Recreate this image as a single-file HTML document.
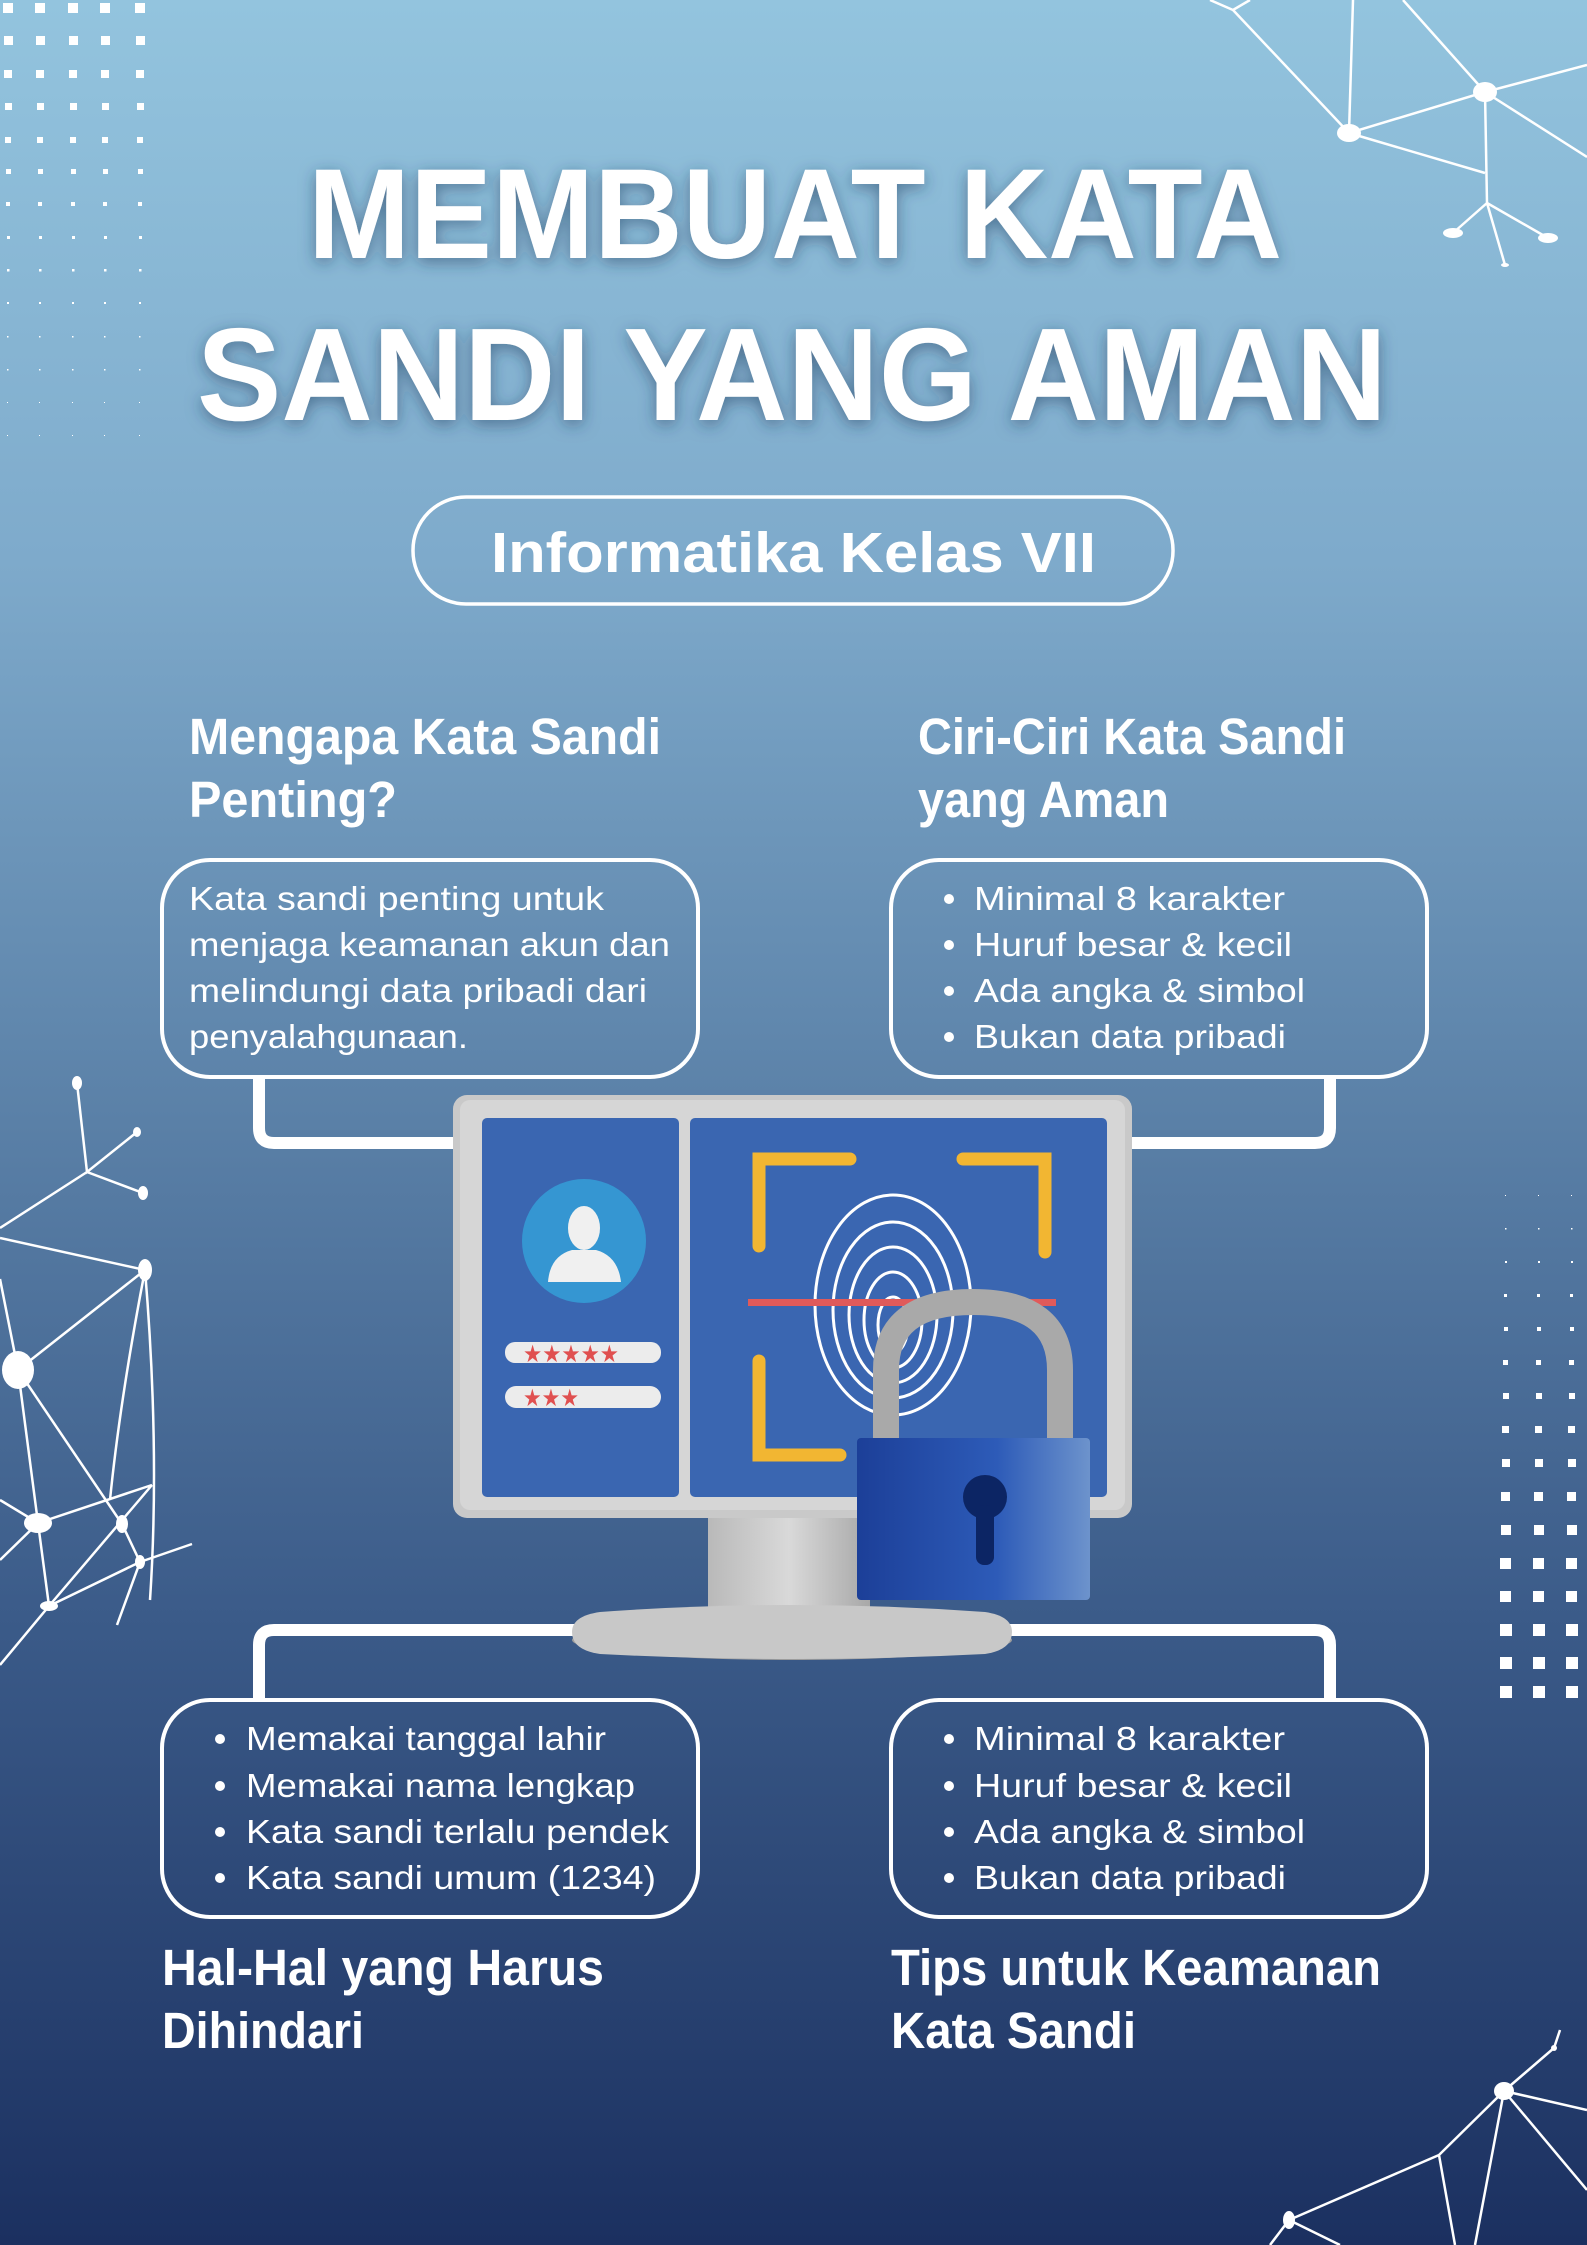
<!DOCTYPE html>
<html><head><meta charset="utf-8"><style>
html,body{margin:0;padding:0;width:1587px;height:2245px;overflow:hidden}
svg{display:block}
.h{font-family:"Liberation Sans Narrow","Liberation Sans",sans-serif;font-weight:bold;fill:#fff}
.b{font-family:"Liberation Sans Narrow","Liberation Sans",sans-serif;fill:#fff;font-size:33px}
</style></head><body>
<svg width="1587" height="2245" viewBox="0 0 1587 2245" xmlns="http://www.w3.org/2000/svg">
<defs>
<linearGradient id="bg" x1="0" y1="0" x2="0" y2="1">
<stop offset="0" stop-color="#93c4de"/>
<stop offset="0.25" stop-color="#7eaacb"/>
<stop offset="0.5" stop-color="#5a80a7"/>
<stop offset="0.72" stop-color="#3b5b89"/>
<stop offset="1" stop-color="#1b3060"/>
</linearGradient>
<filter id="sh" x="-10%" y="-20%" width="120%" height="140%"><feDropShadow dx="0" dy="4" stdDeviation="8" flood-color="#1d3a5c" flood-opacity="0.55"/></filter>
<linearGradient id="lock" x1="0" y1="0" x2="1" y2="0"><stop offset="0" stop-color="#1c3f98"/><stop offset="0.6" stop-color="#2d5bb8"/><stop offset="1" stop-color="#6d93cc"/></linearGradient>
<linearGradient id="grey" x1="0" y1="0" x2="1" y2="0"><stop offset="0" stop-color="#b9b9b9"/><stop offset="0.5" stop-color="#d9d9d9"/><stop offset="1" stop-color="#a8a8a8"/></linearGradient>
</defs>
<rect width="1587" height="2245" fill="url(#bg)"/>

<g fill="#fff">
<rect x="3" y="3" width="10" height="10"/><rect x="35" y="3" width="10" height="10"/><rect x="68" y="3" width="10" height="10"/><rect x="100" y="3" width="10" height="10"/><rect x="135" y="3" width="10" height="10"/>
<rect x="4" y="36" width="9" height="9"/><rect x="36" y="36" width="9" height="9"/><rect x="69" y="36" width="9" height="9"/><rect x="101" y="36" width="9" height="9"/><rect x="136" y="36" width="9" height="9"/>
<rect x="4" y="70" width="8" height="8"/><rect x="36" y="70" width="8" height="8"/><rect x="69" y="70" width="8" height="8"/><rect x="101" y="70" width="8" height="8"/><rect x="136" y="70" width="8" height="8"/>
<rect x="5" y="103" width="7" height="7"/><rect x="37" y="103" width="7" height="7"/><rect x="70" y="103" width="7" height="7"/><rect x="102" y="103" width="7" height="7"/><rect x="137" y="103" width="7" height="7"/>
<rect x="5" y="137" width="6" height="6"/><rect x="37" y="137" width="6" height="6"/><rect x="70" y="137" width="6" height="6"/><rect x="102" y="137" width="6" height="6"/><rect x="137" y="137" width="6" height="6"/>
<rect x="6" y="169" width="5" height="5"/><rect x="38" y="169" width="5" height="5"/><rect x="71" y="169" width="5" height="5"/><rect x="103" y="169" width="5" height="5"/><rect x="138" y="169" width="5" height="5"/>
<rect x="6" y="202" width="4" height="4"/><rect x="38" y="202" width="4" height="4"/><rect x="71" y="202" width="4" height="4"/><rect x="103" y="202" width="4" height="4"/><rect x="138" y="202" width="4" height="4"/>
<rect x="7" y="236" width="3" height="3"/><rect x="39" y="236" width="3" height="3"/><rect x="72" y="236" width="3" height="3"/><rect x="104" y="236" width="3" height="3"/><rect x="139" y="236" width="3" height="3"/>
<rect x="7" y="269" width="2.5" height="2.5"/><rect x="39" y="269" width="2.5" height="2.5"/><rect x="72" y="269" width="2.5" height="2.5"/><rect x="104" y="269" width="2.5" height="2.5"/><rect x="139" y="269" width="2.5" height="2.5"/>
<rect x="7" y="302" width="2" height="2"/><rect x="39" y="302" width="2" height="2"/><rect x="72" y="302" width="2" height="2"/><rect x="104" y="302" width="2" height="2"/><rect x="139" y="302" width="2" height="2"/>
<rect x="7" y="336" width="1.5" height="1.5"/><rect x="39" y="336" width="1.5" height="1.5"/><rect x="72" y="336" width="1.5" height="1.5"/><rect x="104" y="336" width="1.5" height="1.5"/><rect x="139" y="336" width="1.5" height="1.5"/>
<rect x="7" y="369" width="1.5" height="1.5"/><rect x="39" y="369" width="1.5" height="1.5"/><rect x="72" y="369" width="1.5" height="1.5"/><rect x="104" y="369" width="1.5" height="1.5"/><rect x="139" y="369" width="1.5" height="1.5"/>
<rect x="7" y="402" width="1" height="1"/><rect x="39" y="402" width="1" height="1"/><rect x="72" y="402" width="1" height="1"/><rect x="104" y="402" width="1" height="1"/><rect x="139" y="402" width="1" height="1"/>
<rect x="7" y="435" width="1" height="1"/><rect x="39" y="435" width="1" height="1"/><rect x="72" y="435" width="1" height="1"/><rect x="104" y="435" width="1" height="1"/><rect x="139" y="435" width="1" height="1"/>
</g>
<g fill="#fff">
<rect x="1505" y="1195" width="1" height="1"/><rect x="1538" y="1195" width="1" height="1"/><rect x="1571" y="1195" width="1" height="1"/>
<rect x="1505" y="1228" width="1.5" height="1.5"/><rect x="1538" y="1228" width="1.5" height="1.5"/><rect x="1571" y="1228" width="1.5" height="1.5"/>
<rect x="1505" y="1261" width="2" height="2"/><rect x="1538" y="1261" width="2" height="2"/><rect x="1571" y="1261" width="2" height="2"/>
<rect x="1504" y="1294" width="3" height="3"/><rect x="1537" y="1294" width="3" height="3"/><rect x="1570" y="1294" width="3" height="3"/>
<rect x="1504" y="1327" width="4" height="4"/><rect x="1537" y="1327" width="4" height="4"/><rect x="1570" y="1327" width="4" height="4"/>
<rect x="1503" y="1360" width="5" height="5"/><rect x="1536" y="1360" width="5" height="5"/><rect x="1569" y="1360" width="5" height="5"/>
<rect x="1503" y="1393" width="6" height="6"/><rect x="1536" y="1393" width="6" height="6"/><rect x="1569" y="1393" width="6" height="6"/>
<rect x="1502" y="1426" width="7" height="7"/><rect x="1535" y="1426" width="7" height="7"/><rect x="1568" y="1426" width="7" height="7"/>
<rect x="1502" y="1459" width="8" height="8"/><rect x="1535" y="1459" width="8" height="8"/><rect x="1568" y="1459" width="8" height="8"/>
<rect x="1501" y="1492" width="9" height="9"/><rect x="1534" y="1492" width="9" height="9"/><rect x="1567" y="1492" width="9" height="9"/>
<rect x="1501" y="1525" width="10" height="10"/><rect x="1534" y="1525" width="10" height="10"/><rect x="1567" y="1525" width="10" height="10"/>
<rect x="1500" y="1558" width="11" height="11"/><rect x="1533" y="1558" width="11" height="11"/><rect x="1566" y="1558" width="11" height="11"/>
<rect x="1500" y="1591" width="11" height="11"/><rect x="1533" y="1591" width="11" height="11"/><rect x="1566" y="1591" width="11" height="11"/>
<rect x="1500" y="1624" width="12" height="12"/><rect x="1533" y="1624" width="12" height="12"/><rect x="1566" y="1624" width="12" height="12"/>
<rect x="1500" y="1657" width="12" height="12"/><rect x="1533" y="1657" width="12" height="12"/><rect x="1566" y="1657" width="12" height="12"/>
<rect x="1500" y="1686" width="12" height="12"/><rect x="1533" y="1686" width="12" height="12"/><rect x="1566" y="1686" width="12" height="12"/>
</g>

<g stroke="#fff" stroke-width="2.5" fill="none">
<path d="M1210 0L1233 10L1250 0M1233 10L1349 133L1353 0M1349 133L1485 92L1403 0M1485 92L1587 65M1485 92L1587 157M1349 133L1485 173M1485 92L1487 203L1453 233M1487 203L1548 238M1487 203L1505 265"/>
<path d="M77 1083L87 1172L137 1132M87 1172L143 1193M87 1172L0 1228M0 1238L145 1270L18 1370M0 1279L18 1370L38 1523L49 1606L0 1665M18 1370L122 1524L140 1562L117 1625M0 1500L38 1523L152 1485M0 1560L38 1523M145 1270Q120 1400 110 1500M145 1270Q160 1450 150 1600M49 1606L152 1485M49 1606L140 1562L192 1544"/>
<path d="M1504 2091L1554 2048L1560 2030M1504 2091L1587 2110M1504 2091L1587 2190M1504 2091L1439 2155M1504 2091L1475 2245M1439 2155L1289 2220M1439 2155L1455 2245M1289 2220L1270 2245M1289 2220L1340 2245"/>
</g>
<g fill="#fff">
<ellipse cx="1349" cy="133" rx="12" ry="9"/><ellipse cx="1485" cy="92" rx="12" ry="10"/><ellipse cx="1453" cy="233" rx="10" ry="5"/><ellipse cx="1548" cy="238" rx="10" ry="5"/><ellipse cx="1505" cy="265" rx="4" ry="2"/>
<ellipse cx="77" cy="1083" rx="5" ry="7"/><ellipse cx="137" cy="1132" rx="4" ry="5"/><ellipse cx="143" cy="1193" rx="5" ry="7"/><ellipse cx="145" cy="1270" rx="7" ry="11"/><ellipse cx="18" cy="1370" rx="16" ry="19"/><ellipse cx="38" cy="1523" rx="14" ry="10"/><ellipse cx="122" cy="1524" rx="6" ry="9"/><ellipse cx="140" cy="1562" rx="5" ry="7"/><ellipse cx="49" cy="1606" rx="9" ry="5"/>
<ellipse cx="1504" cy="2091" rx="10" ry="9"/><ellipse cx="1554" cy="2048" rx="3" ry="3"/><ellipse cx="1289" cy="2220" rx="6" ry="9"/>
</g>

<g class="h" filter="url(#sh)">
<text x="308" y="258" font-size="128" textLength="974" lengthAdjust="spacingAndGlyphs">MEMBUAT KATA</text>
<text x="197" y="420" font-size="132" textLength="1190" lengthAdjust="spacingAndGlyphs">SANDI YANG AMAN</text>
</g>
<rect x="413" y="497" width="760" height="107" rx="53" fill="none" stroke="#fff" stroke-width="3.5"/>
<text class="h" x="491" y="572" font-size="57" textLength="605" lengthAdjust="spacingAndGlyphs">Informatika Kelas VII</text>

<text class="h" x="189" y="754" font-size="51" textLength="472" lengthAdjust="spacingAndGlyphs">Mengapa Kata Sandi</text>
<text class="h" x="189" y="817" font-size="51" textLength="208" lengthAdjust="spacingAndGlyphs">Penting?</text>
<text class="h" x="918" y="754" font-size="51" textLength="428" lengthAdjust="spacingAndGlyphs">Ciri-Ciri Kata Sandi</text>
<text class="h" x="918" y="817" font-size="51" textLength="251" lengthAdjust="spacingAndGlyphs">yang Aman</text>

<g stroke="#fff" stroke-width="12" fill="none">
<path d="M259 1077V1128Q259 1143 274 1143H460"/>
<path d="M1330 1077V1128Q1330 1143 1315 1143H1120"/>
<path d="M259 1699V1645Q259 1630 274 1630H580"/>
<path d="M1330 1699V1645Q1330 1630 1315 1630H1000"/>
</g>

<g fill="none" stroke="#fff" stroke-width="4">
<rect x="162" y="860" width="536" height="217" rx="48"/>
<rect x="891" y="860" width="536" height="217" rx="48"/>
<rect x="162" y="1700" width="536" height="217" rx="48"/>
<rect x="891" y="1700" width="536" height="217" rx="48"/>
</g>

<g class="b">
<text x="189" y="910" textLength="415" lengthAdjust="spacingAndGlyphs">Kata sandi penting untuk</text>
<text x="189" y="956" textLength="481" lengthAdjust="spacingAndGlyphs">menjaga keamanan akun dan</text>
<text x="189" y="1002" textLength="458" lengthAdjust="spacingAndGlyphs">melindungi data pribadi dari</text>
<text x="189" y="1048" textLength="279" lengthAdjust="spacingAndGlyphs">penyalahgunaan.</text>

<text x="974" y="910" textLength="311" lengthAdjust="spacingAndGlyphs">Minimal 8 karakter</text>
<text x="974" y="956" textLength="318" lengthAdjust="spacingAndGlyphs">Huruf besar &amp; kecil</text>
<text x="974" y="1002" textLength="331" lengthAdjust="spacingAndGlyphs">Ada angka &amp; simbol</text>
<text x="974" y="1048" textLength="312" lengthAdjust="spacingAndGlyphs">Bukan data pribadi</text>

<text x="246" y="1750" textLength="360" lengthAdjust="spacingAndGlyphs">Memakai tanggal lahir</text>
<text x="246" y="1797" textLength="389" lengthAdjust="spacingAndGlyphs">Memakai nama lengkap</text>
<text x="246" y="1843" textLength="423" lengthAdjust="spacingAndGlyphs">Kata sandi terlalu pendek</text>
<text x="246" y="1889" textLength="410" lengthAdjust="spacingAndGlyphs">Kata sandi umum (1234)</text>

<text x="974" y="1750" textLength="311" lengthAdjust="spacingAndGlyphs">Minimal 8 karakter</text>
<text x="974" y="1797" textLength="318" lengthAdjust="spacingAndGlyphs">Huruf besar &amp; kecil</text>
<text x="974" y="1843" textLength="331" lengthAdjust="spacingAndGlyphs">Ada angka &amp; simbol</text>
<text x="974" y="1889" textLength="312" lengthAdjust="spacingAndGlyphs">Bukan data pribadi</text>
</g>
<g fill="#fff">
<circle cx="949" cy="899" r="5"/><circle cx="949" cy="945" r="5"/><circle cx="949" cy="991" r="5"/><circle cx="949" cy="1037" r="5"/>
<circle cx="220" cy="1739" r="5"/><circle cx="220" cy="1786" r="5"/><circle cx="220" cy="1832" r="5"/><circle cx="220" cy="1878" r="5"/>
<circle cx="949" cy="1739" r="5"/><circle cx="949" cy="1786" r="5"/><circle cx="949" cy="1832" r="5"/><circle cx="949" cy="1878" r="5"/>
</g>

<text class="h" x="162" y="1985" font-size="51" textLength="442" lengthAdjust="spacingAndGlyphs">Hal-Hal yang Harus</text>
<text class="h" x="162" y="2048" font-size="51" textLength="202" lengthAdjust="spacingAndGlyphs">Dihindari</text>
<text class="h" x="891" y="1985" font-size="51" textLength="490" lengthAdjust="spacingAndGlyphs">Tips untuk Keamanan</text>
<text class="h" x="891" y="2048" font-size="51" textLength="245" lengthAdjust="spacingAndGlyphs">Kata Sandi</text>

<rect x="708" y="1510" width="162" height="108" fill="url(#grey)"/>
<ellipse cx="792" cy="1640" rx="220" ry="20" fill="#9c9c9c"/>
<path d="M600 1612Q792 1598 985 1612Q1012 1616 1012 1632Q1012 1650 985 1654Q792 1664 600 1654Q572 1650 572 1632Q572 1616 600 1612Z" fill="#c8c8c8"/>
<rect x="453" y="1095" width="679" height="423" rx="14" fill="#c9c9c9"/>
<rect x="460" y="1100" width="665" height="410" rx="10" fill="#d6d6d6"/>
<rect x="482" y="1118" width="197" height="379" rx="5" fill="#3a66b1"/>
<rect x="690" y="1118" width="417" height="379" rx="5" fill="#3a66b1"/>
<circle cx="584" cy="1241" r="62" fill="#3596d2"/>
<ellipse cx="584" cy="1228" rx="16" ry="22" fill="#f0f0f0"/>
<path d="M548 1282Q550 1256 572 1250H596Q618 1256 621 1282Z" fill="#f0f0f0"/>
<rect x="505" y="1342" width="156" height="21" rx="10" fill="#ececec"/>
<rect x="505" y="1386" width="156" height="22" rx="11" fill="#ececec"/>
<g fill="#e05050" font-family="DejaVu Sans,sans-serif" font-size="24">
<text x="523" y="1362" textLength="96" lengthAdjust="spacingAndGlyphs">★★★★★</text>
<text x="523" y="1406" textLength="56" lengthAdjust="spacingAndGlyphs">★★★</text>
</g>
<g stroke="#f2b632" stroke-width="13" fill="none" stroke-linecap="round">
<path d="M759 1246V1159H850"/>
<path d="M963 1159H1045V1252"/>
<path d="M759 1361V1455H840"/>
</g>
<g stroke="#fff" stroke-width="3" fill="none">
<ellipse cx="893" cy="1305" rx="78" ry="110"/>
<ellipse cx="893" cy="1310" rx="60" ry="88"/>
<ellipse cx="893" cy="1315" rx="44" ry="68"/>
<ellipse cx="893" cy="1320" rx="29" ry="48"/>
<ellipse cx="893" cy="1325" rx="15" ry="28"/>
</g>
<rect x="748" y="1299" width="308" height="7" fill="#e05a5a"/>
<path d="M886 1440V1370Q886 1302 973 1302Q1060 1302 1060 1370V1440" fill="none" stroke="#a9a9a9" stroke-width="26"/>
<rect x="857" y="1438" width="233" height="162" rx="4" fill="url(#lock)"/>
<circle cx="985" cy="1497" r="22" fill="#0c2564"/>
<rect x="976" y="1505" width="18" height="60" rx="8" fill="#0c2564"/>
</svg>
</body></html>
